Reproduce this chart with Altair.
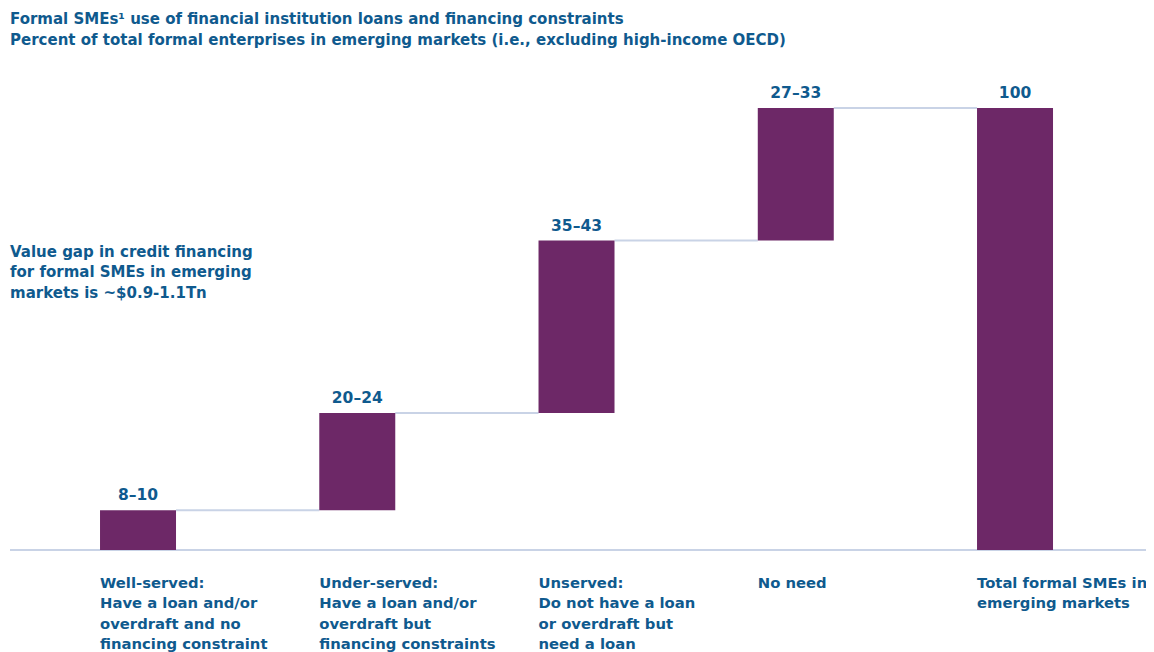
import altair as alt
import pandas as pd

categories = ["Well-served", "Under-served", "Unserved", "No need", "Total"]
category_labels = [
    "Well-served:\nHave a loan and/or\noverdraft and no\nfinancing constraint",
    "Under-served:\nHave a loan and/or\noverdraft but\nfinancing constraints",
    "Unserved:\nDo not have a loan\nor overdraft but\nneed a loan",
    "No need",
    "Total formal SMEs in\nemerging markets",
]
starts = [0, 9, 31, 70, 0]
ends = [9, 31, 70, 100, 100]
value_labels = ["8–10", "20–24", "35–43", "27–33", "100"]

title_lines = [
    "Formal SMEs¹ use of financial institution loans and financing constraints",
    "Percent of total formal enterprises in emerging markets (i.e., excluding high-income OECD)",
]
annotation = "Value gap in credit financing\nfor formal SMEs in emerging\nmarkets is ~$0.9-1.1Tn"

BAR = "#6D2867"
TEXT = "#0F5A8E"
LINE = "#C9D3E6"
FONT = "DejaVu Sans"
W, H = 1138, 644

bars = pd.DataFrame({"cat": categories, "start": starts, "end": ends,
                     "label": value_labels, "catlabel": category_labels})
conn = pd.DataFrame({"cat": categories[:-1], "next": categories[1:], "y": ends[:-1]})

xscale = alt.Scale(domain=categories, paddingInner=0.6534, paddingOuter=0.4219, align=0.4974)
yscale = alt.Scale(domain=[0, 100], range=[542, 100])

x = alt.X("cat:N", scale=xscale, axis=None, sort=categories)
base = alt.Chart(bars)

baseline = alt.Chart(pd.DataFrame({"y": [0]})).mark_rule(color=LINE, strokeWidth=2).encode(
    x=alt.value(2), x2=alt.value(W), y=alt.Y("y:Q", scale=yscale, axis=None))

connectors = alt.Chart(conn).mark_rule(color=LINE, strokeWidth=2, xOffset=38, x2Offset=-38).encode(
    x=x, x2="next:N", y=alt.Y("y:Q", scale=yscale, axis=None))

barlayer = base.mark_bar(color=BAR).encode(
    x=x, y=alt.Y("start:Q", scale=yscale, axis=None), y2="end:Q")

vals = base.mark_text(font=FONT, fontSize=15.5, fontWeight="bold", color=TEXT,
                      baseline="alphabetic", dy=-10).encode(
    x=x, y=alt.Y("end:Q", scale=yscale, axis=None), text="label:N")

catl = base.mark_text(font=FONT, fontSize=14.8, fontWeight="bold", color=TEXT, align="left",
                      baseline="alphabetic", dx=-38, lineBreak="\n", lineHeight=20.5).encode(
    x=x, y=alt.value(579.7), text="catlabel:N")

titles = alt.Chart(pd.DataFrame({"t": ["\n".join(title_lines)]})).mark_text(
    font=FONT, fontSize=15, fontWeight="bold", color=TEXT, align="left", baseline="alphabetic",
    lineBreak="\n", lineHeight=21).encode(x=alt.value(2), y=alt.value(15.7), text="t:N")

annot = alt.Chart(pd.DataFrame({"t": [annotation]})).mark_text(
    font=FONT, fontSize=15, fontWeight="bold", color=TEXT, align="left", baseline="alphabetic",
    lineBreak="\n", lineHeight=20.5).encode(x=alt.value(2), y=alt.value(248.7), text="t:N")

chart = alt.layer(baseline, connectors, barlayer, vals, catl, titles, annot).properties(
    width=W, height=H, padding=0, autosize=alt.AutoSizeParams(type="none")
).configure_view(stroke=None)

chart.save("out.html", embed_options={"renderer": "svg", "actions": False})
